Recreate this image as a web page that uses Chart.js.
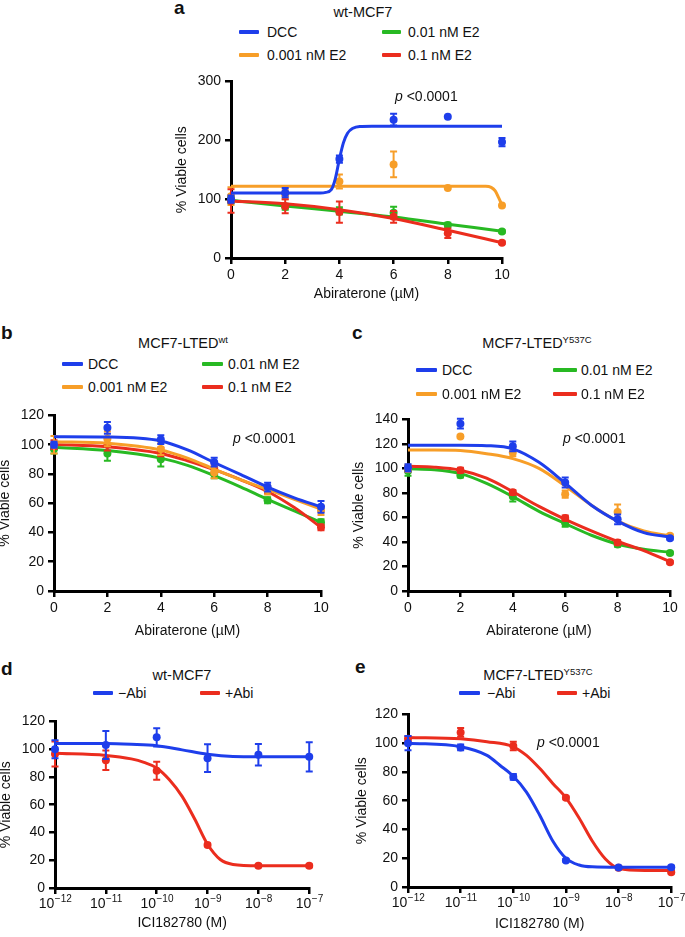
<!DOCTYPE html>
<html>
<head>
<meta charset="utf-8">
<script src="https://cdn.jsdelivr.net/npm/chart.js@4.4.1/dist/chart.umd.min.js"></script>
<style>
  body { margin: 0; width: 685px; height: 937px; position: relative; overflow: hidden; background: #fff;
         font-family: "Liberation Sans", Arial, sans-serif; color: #111; }
  canvas { position: absolute; }
  .t { position: absolute; white-space: nowrap; font-size: 14px; line-height: 16px; transform: translateY(-50%); }
  .c { transform: translate(-50%, -50%); font-size: 14.5px; }
  .letter { font-weight: bold; font-size: 19px; }
  .key { position: absolute; height: 4px; border-radius: 1px; }
  sup { font-size: 9.5px; vertical-align: 5px; line-height: 0; }
</style>
</head>
<body>
<script>
// ---- dados ----
var abiDose = [0, 2, 4, 6, 8, 10];
var iciDose = [1e-12, 1e-11, 1e-10, 1e-9, 1e-8, 1e-7];
var iciExpLabels = ['\u221212', '\u221211', '\u221210', '\u22129', '\u22128', '\u22127'];
var e2Names = ['DCC', '0.01 nM E2', '0.001 nM E2', '0.1 nM E2'];
var abiNames = ['\u2212Abi', '+Abi'];

// a: wt-MCF7
var aDCC = [100, 111, 168, 235, 240, 197];
var aDCCErr = [6, 8, 6, 10, 0, 7];
var aE2low = [105, 108, 130, 159, 119, 89];
var aE2lowErr = [15, 8, 12, 22, 0, 0];
var aE2mid = [98, 87, 80, 77, 56, 45];
var aE2midErr = [5, 5, 6, 10, 4, 2];
var aE2high = [97, 88, 78, 70, 42, 26];
var aE2highErr = [20, 12, 18, 10, 8, 2];
var aDCCFitX = [0, 3.3, 3.5, 3.7, 3.85, 4.0, 4.15, 4.3, 4.5, 4.75, 5.2, 10];
var aDCCFitY = [110.5, 110.5, 111.5, 116, 135, 168, 196, 212, 220.5, 223.5, 224, 224];
var aE2lowFitX = [0, 9.4, 9.6, 9.75, 9.88, 10];
var aE2lowFitY = [122, 122, 120, 114, 102, 90];
var aE2midFitX = [0, 2, 4, 6, 8, 10];
var aE2midFitY = [98, 88.5, 79.5, 69.5, 57.5, 45.5];
var aE2highFitX = [0, 2, 4, 6, 8, 10];
var aE2highFitY = [97, 92, 82, 67, 47, 26];

// b: MCF7-LTEDwt
var bDCC = [100, 111.5, 103.5, 88, 71, 57.5];
var bDCCErr = [2, 4, 3, 3, 3, 4];
var bE2low = [100, 104, 97, 81, 69, 55];
var bE2lowErr = [6, 5, 4, 4, 3, 3];
var bE2mid = [97, 94, 90, 80, 62, 47];
var bE2midErr = [3, 5, 5, 3, 2, 2];
var bE2high = [100, 100, 95, 84, 69, 43.5];
var bE2highErr = [3, 4, 3, 3, 2, 2];
var bFitX = [0, 2, 4, 5, 6, 7, 8, 9, 10];
var bDCCFitY = [105.4, 105.2, 102.5, 96.4, 87.8, 79.5, 71, 63.7, 57.5];
var bE2lowFitY = [102, 101, 96.4, 90.8, 83.3, 76, 69.4, 62.6, 55.9];
var bE2midFitY = [98.2, 96, 90.8, 85.8, 78.8, 71, 62.6, 54.7, 46.8];
var bE2highFitY = [100.2, 98.6, 94, 89, 82.9, 76, 68, 57, 43.5];

// c: MCF7-LTEDY537C
var cDCC = [100.5, 136.5, 118, 88.5, 58.5, 43];
var cDCCErr = [3, 4, 4, 4, 4, 1];
var cE2low = [100, 126, 113, 79, 64.5, 45];
var cE2lowErr = [3, 1, 3, 3, 6, 1];
var cE2mid = [98, 94.5, 77, 55.5, 38, 31];
var cE2midErr = [4, 2, 4, 3, 2, 1];
var cE2high = [100, 98.5, 80.5, 59.5, 39.5, 23.5];
var cE2highErr = [2, 2, 2, 2, 2, 1];
var cFitX = [0, 1, 2, 3, 4, 5, 6, 7, 8, 9, 10];
var cDCCFitY = [119, 119, 119, 118.6, 116, 105, 88, 70, 57, 47.6, 44];
var cE2lowFitY = [115, 115, 114.6, 112, 108, 100, 85.7, 70, 57, 49, 45];
var cE2midFitY = [99.8, 99, 95.8, 87.8, 77, 65, 55, 45.5, 38.3, 34, 31.6];
var cE2highFitY = [101.7, 101, 98.5, 92, 81, 69, 58.4, 49, 40.4, 33, 24];

// d: wt-MCF7, ICI182780
var dNeg = [100, 103, 108.5, 93.5, 96, 94.5];
var dNegErr = [6.5, 10, 6.5, 10, 7.7, 10.5];
var dPos = [96.5, 92, 84.5, 31, 16, 16];
var dPosErr = [9, 7, 6.5, 1, 1, 1];
var dNegFitExp = [-12, -11, -10.5, -10, -9.5, -9, -8.5, -8, -7];
var dNegFitY = [104, 104, 103.5, 102.5, 99.5, 96.3, 94.7, 94.5, 94.5];
var dPosFitExp = [-12, -11, -10.5, -10.25, -10, -9.75, -9.5, -9.25, -9, -8.75, -8.5, -8, -7];
var dPosFitY = [97, 95.5, 93, 90.5, 86.5, 78, 66, 49.5, 31.5, 20.5, 17, 16, 16];

// e: MCF7-LTEDY537C, ICI182780
var eNeg = [100, 97, 76.5, 18.5, 13.5, 13.7];
var eNegErr = [5, 2, 2, 1, 1, 1];
var ePos = [103, 107.5, 98, 62, 13.3, 10.3];
var ePosErr = [2, 3, 3, 1, 1, 1];
var eNegFitExp = [-12, -11, -10.5, -10.25, -10, -9.75, -9.5, -9.25, -9, -8.75, -8.5, -8, -7];
var eNegFitY = [100, 97.5, 91.5, 84.5, 77, 66, 50, 32, 20, 15.3, 14, 13.7, 13.7];
var ePosFitExp = [-12, -11, -10.5, -10, -9.75, -9.5, -9.25, -9, -8.75, -8.5, -8.25, -8, -7.5, -7];
var ePosFitY = [104, 103, 101, 97.5, 91.5, 82.5, 72, 62, 48, 32, 19.5, 13, 11.5, 11.5];

var azul = 'rgb(30,62,235)';
var verde = 'rgb(40,185,35)';
var laranja = 'rgb(247,158,40)';
var vermelho = 'rgb(235,45,30)';

// ---- helpers ----
Chart.defaults.font.family = '"Liberation Sans", Arial, sans-serif';
Chart.defaults.color = '#111';

function xy(xs, ys) {
    return xs.map(function(x, i) { return {x: x, y: ys[i]}; });
}

function doExpoente(exps) {
    return exps.map(function(e) { return Math.pow(10, e); });
}

function serie(cor, xs, ys, err, fitX, fitY) {
    return [
        {data: xy(xs, ys), err: err, showLine: false, pointRadius: 4, pointHoverRadius: 4,
         backgroundColor: cor, borderColor: cor, borderWidth: 0, clip: false},
        {data: xy(fitX, fitY), showLine: true, pointRadius: 0, borderColor: cor, borderWidth: 3,
         cubicInterpolationMode: 'monotone', fill: false, clip: false}
    ];
}

// barras de erro desenhadas com as escalas do grafico
var barrasErro = {
    id: 'barrasErro',
    afterDatasetDraw: function(chart, args) {
        var ds = chart.data.datasets[args.index];
        if (!ds.err) return;
        var xs = chart.scales.x, ys = chart.scales.y, ctx = chart.ctx;
        ctx.save();
        ctx.strokeStyle = ds.borderColor;
        ctx.lineWidth = 2;
        ds.data.forEach(function(p, i) {
            var e = ds.err[i];
            if (!e) return;
            var x = xs.getPixelForValue(p.x);
            var y1 = ys.getPixelForValue(p.y - e), y2 = ys.getPixelForValue(p.y + e);
            ctx.beginPath();
            ctx.moveTo(x, y1); ctx.lineTo(x, y2);
            ctx.moveTo(x - 3.5, y1); ctx.lineTo(x + 3.5, y1);
            ctx.moveTo(x - 3.5, y2); ctx.lineTo(x + 3.5, y2);
            ctx.stroke();
        });
        ctx.restore();
    }
};

// rotulos 10^n com expoente menor
var rotulosExp = {
    id: 'rotulosExp',
    afterDraw: function(chart) {
        var xs = chart.scales.x, ctx = chart.ctx, base = chart.chartArea.bottom;
        ctx.save();
        ctx.fillStyle = '#111';
        ctx.textBaseline = 'alphabetic';
        ctx.textAlign = 'left';
        iciDose.forEach(function(v, i) {
            var px = xs.getPixelForValue(v);
            ctx.font = '14px "Liberation Sans", Arial, sans-serif';
            var w1 = ctx.measureText('10').width;
            ctx.font = '10px "Liberation Sans", Arial, sans-serif';
            var w2 = ctx.measureText(iciExpLabels[i]).width;
            var x0 = px - (w1 + w2) / 2;
            ctx.font = '14px "Liberation Sans", Arial, sans-serif';
            ctx.fillText('10', x0, base + 20);
            ctx.font = '10px "Liberation Sans", Arial, sans-serif';
            ctx.fillText(iciExpLabels[i], x0 + w1 + 0.5, base + 14);
        });
        ctx.restore();
    }
};

function painel(p) {
    var w = p.yW + (p.R - p.L) + p.padR;
    var h = 10 + (p.B - p.T) + p.xH;
    var cv = document.createElement('canvas');
    cv.width = w; cv.height = h;
    cv.style.left = (p.L - p.yW) + 'px';
    cv.style.top = (p.T - 10) + 'px';
    cv.style.width = w + 'px';
    cv.style.height = h + 'px';
    document.body.appendChild(cv);

    var grade = {display: true, drawOnChartArea: false, drawTicks: true, tickLength: 6,
                 color: '#000', lineWidth: 2.5};
    var borda = {display: true, color: '#000', width: 3};
    var fonteTick = {size: 14};

    var eixoX = {
        type: p.log ? 'logarithmic' : 'linear',
        min: p.xMin, max: p.xMax,
        grid: grade, border: borda,
        afterFit: function(s) { s.height = p.xH; },
        ticks: {font: fonteTick, padding: 3, maxRotation: 0, autoSkip: false, color: '#111'},
        title: {display: true, text: p.xTitle, font: {size: 14}, color: '#111', padding: 0}
    };
    if (p.log) {
        eixoX.afterBuildTicks = function(s) { s.ticks = iciDose.map(function(v) { return {value: v}; }); };
        eixoX.ticks.callback = function(v, i) { return '10' + iciExpLabels[i]; };
        eixoX.ticks.color = 'rgba(0,0,0,0)';
    } else {
        eixoX.ticks.stepSize = 2;
    }

    new Chart(cv.getContext('2d'), {
        type: 'scatter',
        data: {datasets: p.datasets},
        options: {
            responsive: false,
            animation: false,
            devicePixelRatio: 1,
            layout: {padding: {left: 0, top: 10, right: p.padR, bottom: 0}},
            plugins: {legend: {display: false}, tooltip: {enabled: false}, title: {display: false}},
            scales: {
                x: eixoX,
                y: {
                    min: 0, max: p.yMax,
                    grid: grade, border: borda,
                    afterFit: function(s) { s.width = p.yW; },
                    ticks: {stepSize: p.yStep, font: fonteTick, padding: 4, color: '#111'},
                    title: {display: true, text: '% Viable cells', font: {size: 14}, color: '#111', padding: 0}
                }
            }
        },
        plugins: p.log ? [barrasErro, rotulosExp] : [barrasErro]
    });
}

function texto(html, x, y, cls) {
    var d = document.createElement('div');
    d.className = 't ' + (cls || '');
    d.style.left = x + 'px';
    d.style.top = y + 'px';
    d.innerHTML = html;
    document.body.appendChild(d);
}

function chave(x1, x2, xt, y, nome, cor) {
    var k = document.createElement('div');
    k.className = 'key';
    k.style.left = x1 + 'px';
    k.style.top = (y - 2) + 'px';
    k.style.width = (x2 - x1) + 'px';
    k.style.background = cor;
    document.body.appendChild(k);
    texto(nome, xt, y);
}

// ---- paineis ----
painel({L: 231, T: 79, R: 502, B: 258, yW: 57, xH: 45, padR: 12, xMin: 0, xMax: 10, yMax: 300, yStep: 100,
    xTitle: 'Abiraterone (\u00b5M)',
    datasets: [].concat(
        serie(azul, abiDose, aDCC, aDCCErr, aDCCFitX, aDCCFitY),
        serie(vermelho, abiDose, aE2high, aE2highErr, aE2highFitX, aE2highFitY),
        serie(verde, abiDose, aE2mid, aE2midErr, aE2midFitX, aE2midFitY),
        serie(laranja, abiDose, aE2low, aE2lowErr, aE2lowFitX, aE2lowFitY))
});

painel({L: 54, T: 413, R: 321, B: 591, yW: 57, xH: 49, padR: 12, xMin: 0, xMax: 10, yMax: 120, yStep: 20,
    xTitle: 'Abiraterone (\u00b5M)',
    datasets: [].concat(
        serie(azul, abiDose, bDCC, bDCCErr, bFitX, bDCCFitY),
        serie(laranja, abiDose, bE2low, bE2lowErr, bFitX, bE2lowFitY),
        serie(vermelho, abiDose, bE2high, bE2highErr, bFitX, bE2highFitY),
        serie(verde, abiDose, bE2mid, bE2midErr, bFitX, bE2midFitY))
});

painel({L: 408, T: 417, R: 670, B: 591, yW: 57, xH: 49, padR: 12, xMin: 0, xMax: 10, yMax: 140, yStep: 20,
    xTitle: 'Abiraterone (\u00b5M)',
    datasets: [].concat(
        serie(azul, abiDose, cDCC, cDCCErr, cFitX, cDCCFitY),
        serie(laranja, abiDose, cE2low, cE2lowErr, cFitX, cE2lowFitY),
        serie(vermelho, abiDose, cE2high, cE2highErr, cFitX, cE2highFitY),
        serie(verde, abiDose, cE2mid, cE2midErr, cFitX, cE2midFitY))
});

painel({L: 55, T: 719, R: 310, B: 888, yW: 57, xH: 44, padR: 18, log: true, xMin: 1e-12, xMax: 1e-7, yMax: 120, yStep: 20,
    xTitle: 'ICI182780 (M)',
    datasets: [].concat(
        serie(azul, iciDose, dNeg, dNegErr, doExpoente(dNegFitExp), dNegFitY),
        serie(vermelho, iciDose, dPos, dPosErr, doExpoente(dPosFitExp), dPosFitY))
});

painel({L: 408, T: 712, R: 672, B: 887, yW: 54, xH: 46, padR: 18, log: true, xMin: 1e-12, xMax: 1e-7, yMax: 120, yStep: 20,
    xTitle: 'ICI182780 (M)',
    datasets: [].concat(
        serie(azul, iciDose, eNeg, eNegErr, doExpoente(eNegFitExp), eNegFitY),
        serie(vermelho, iciDose, ePos, ePosErr, doExpoente(ePosFitExp), ePosFitY))
});

// ---- letras, titulos, legendas ----
var pTexto = '<i>p</i> &lt;0.0001';

texto('a', 174, 8, 'letter');
texto('wt-MCF7', 363, 12, 'c');
chave(239, 259, 267, 32, e2Names[0], azul);
chave(382, 401, 408, 32, e2Names[1], verde);
chave(239, 259, 267, 55, e2Names[2], laranja);
chave(382, 401, 408, 55, e2Names[3], vermelho);
texto(pTexto, 395, 96);

texto('b', 1, 333, 'letter');
texto('MCF7-LTED<sup>wt</sup>', 183, 343, 'c');
chave(62, 83, 88, 363.5, e2Names[0], azul);
chave(202, 223, 228, 363.5, e2Names[1], verde);
chave(62, 83, 88, 386.5, e2Names[2], laranja);
chave(202, 223, 228, 386.5, e2Names[3], vermelho);
texto(pTexto, 233, 438);

texto('c', 352, 333, 'letter');
texto('MCF7-LTED<sup>Y537C</sup>', 537, 343, 'c');
chave(416, 437, 442, 370, e2Names[0], azul);
chave(553, 577, 581, 370, e2Names[1], verde);
chave(416, 437, 442, 394, e2Names[2], laranja);
chave(553, 577, 581, 394, e2Names[3], vermelho);
texto(pTexto, 563, 438);

texto('d', 1, 669, 'letter');
texto('wt-MCF7', 182, 675, 'c');
chave(93, 113, 118, 693, abiNames[0], azul);
chave(200, 220, 225, 693, abiNames[1], vermelho);

texto('e', 355, 667, 'letter');
texto('MCF7-LTED<sup>Y537C</sup>', 538, 675, 'c');
chave(459, 480, 487, 693, abiNames[0], azul);
chave(557, 577, 582, 693, abiNames[1], vermelho);
texto(pTexto, 537, 742);
</script>
</body>
</html>
